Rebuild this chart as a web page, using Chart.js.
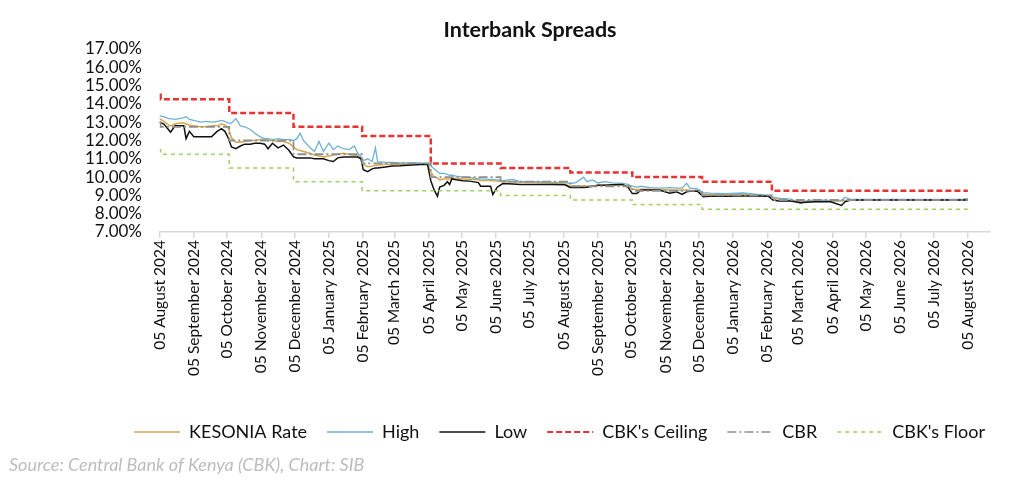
<!DOCTYPE html>
<html lang="en">
<head>
    <meta charset="UTF-8">
    <title>Interbank Spreads</title>
    <script src="https://cdn.jsdelivr.net/npm/chart.js"></script>
    <style>
        html, body { margin: 0; padding: 0; background: #fff; }
        #wrap { width: 1024px; height: 498px; position: relative; }
    </style>
</head>
<body>
    <div id="wrap"><canvas id="spreadChart"></canvas></div>

    <script>
        const chartTitle = 'Interbank Spreads';
        const sourceNote = 'Source: Central Bank of Kenya (CBK), Chart: SIB';

        const tickLabels = [
            '05 August 2024', '05 September 2024', '05 October 2024', '05 November 2024',
            '05 December 2024', '05 January 2025', '05 February 2025', '05 March 2025',
            '05 April 2025', '05 May 2025', '05 June 2025', '05 July 2025',
            '05 August 2025', '05 September 2025', '05 October 2025', '05 November 2025',
            '05 December 2025', '05 January 2026', '05 February 2026', '05 March 2026',
            '05 April 2026', '05 May 2026', '05 June 2026', '05 July 2026', '05 August 2026'
        ];

        // policy corridor (changes at MPC dates)
        const policyDates = ['2024-08-05', '2024-08-06', '2024-10-07', '2024-12-04', '2025-02-04', '2025-04-07',
            '2025-06-09', '2025-08-11', '2025-10-06', '2025-12-08', '2026-02-09', '2026-08-05'];
        const ceiling = [14.5, 14.25, 13.5, 12.75, 12.25, 10.75, 10.5, 10.25, 10.0, 9.75, 9.25, 9.25];
        const cbr = [13.0, 12.75, 12.0, 11.25, 10.75, 10.0, 9.75, 9.5, 9.25, 9.0, 8.75, 8.75];
        const floor = [11.5, 11.25, 10.5, 9.75, 9.25, 9.25, 9.0, 8.75, 8.5, 8.25, 8.25, 8.25];

        // market rates
        const rateDates = [
            '2024-08-05', '2024-08-09', '2024-08-13', '2024-08-15', '2024-08-19', '2024-08-23', '2024-08-27', '2024-08-29',
            '2024-09-01', '2024-09-05', '2024-09-11', '2024-09-16', '2024-09-21', '2024-09-26', '2024-09-30', '2024-10-03', '2024-10-06',
            '2024-10-09', '2024-10-13', '2024-10-17', '2024-10-21', '2024-10-26', '2024-10-30', '2024-11-04', '2024-11-08',
            '2024-11-11', '2024-11-15', '2024-11-20', '2024-11-25', '2024-11-30', '2024-12-04',
            '2024-12-07', '2024-12-10', '2024-12-13', '2024-12-19', '2024-12-23', '2024-12-27', '2024-12-31', '2025-01-05',
            '2025-01-09', '2025-01-13', '2025-01-18', '2025-01-23', '2025-01-28', '2025-01-31', '2025-02-03',
            '2025-02-05', '2025-02-09', '2025-02-13', '2025-02-16', '2025-02-18', '2025-02-25', '2025-03-03', '2025-03-10',
            '2025-03-17', '2025-03-25', '2025-04-04',
            '2025-04-07', '2025-04-10', '2025-04-13', '2025-04-15', '2025-04-19', '2025-04-22', '2025-04-24', '2025-04-26',
            '2025-04-30', '2025-05-06', '2025-05-12', '2025-05-20', '2025-05-22', '2025-05-31', '2025-06-02', '2025-06-06', '2025-06-11',
            '2025-06-20', '2025-06-27', '2025-07-10', '2025-07-24', '2025-08-06',
            '2025-08-11', '2025-08-16', '2025-08-23', '2025-08-26', '2025-08-31', '2025-09-05', '2025-09-11', '2025-09-18',
            '2025-09-27', '2025-10-02',
            '2025-10-06', '2025-10-10', '2025-10-14', '2025-10-22', '2025-10-31', '2025-11-09', '2025-11-15', '2025-11-20',
            '2025-11-24', '2025-11-27', '2025-12-04',
            '2025-12-09', '2025-12-15', '2025-12-29', '2026-01-14', '2026-01-27', '2026-02-06',
            '2026-02-10', '2026-02-15', '2026-02-26', '2026-03-07', '2026-03-12', '2026-03-20', '2026-04-03', '2026-04-13',
            '2026-04-16', '2026-04-21', '2026-05-09', '2026-06-05', '2026-07-02', '2026-07-31', '2026-08-05'
        ];
        const high = [
            13.35, 13.3, 13.2, 13.2, 13.15, 13.2, 13.25, 13.3,
            13.15, 13.1, 13.0, 13.05, 13.0, 13.05, 13.1, 13.05, 12.95,
            12.95, 13.2, 12.8, 12.75, 12.6, 12.4, 12.2, 12.1,
            12.1, 12.05, 12.1, 12.05, 12.05, 12.0,
            12.1, 12.4, 12.0, 11.6, 11.4, 11.95, 11.4, 11.85,
            11.5, 11.7, 11.55, 11.5, 11.7, 11.3, 11.1,
            10.9, 11.0, 10.85, 11.6, 10.85, 10.8, 10.8, 10.78,
            10.78, 10.77, 10.75,
            10.6, 10.45, 10.3, 10.2, 10.2, 10.15, 10.1, 10.1,
            10.05, 10.0, 9.97, 9.92, 9.9, 9.88, 9.88, 9.85, 9.8,
            9.88, 9.75, 9.75, 9.72, 9.7,
            9.65, 9.7, 10.0, 9.75, 9.85, 9.68, 9.75, 9.68,
            9.66, 9.6,
            9.5, 9.45, 9.5, 9.42, 9.4, 9.42, 9.4, 9.4,
            9.66, 9.4, 9.35,
            9.15, 9.12, 9.1, 9.13, 9.05, 9.0,
            8.9, 8.85, 8.8, 8.55, 8.7, 8.75, 8.72, 8.72,
            8.9, 8.78, 8.78, 8.78, 8.78, 8.78, 8.83
        ];
        const kesonia = [
            13.2, 13.05, 12.85, 12.8, 12.9, 12.95, 12.95, 12.9,
            12.85, 12.8, 12.75, 12.75, 12.8, 12.8, 12.9, 12.85, 12.7,
            12.15, 11.9, 11.9, 11.95, 12.0, 12.0, 12.05, 12.05,
            12.0, 12.0, 11.95, 11.95, 11.85, 11.65,
            11.5, 11.45, 11.4, 11.3, 11.2, 11.15, 11.1, 11.15,
            11.2, 11.25, 11.3, 11.25, 11.2, 11.15, 11.0,
            10.7, 10.57, 10.6, 10.65, 10.65, 10.7, 10.7, 10.72,
            10.7, 10.72, 10.72,
            10.3, 10.0, 9.95, 9.85, 9.9, 9.9, 9.9, 9.92,
            9.92, 9.9, 9.88, 9.85, 9.82, 9.82, 9.8, 9.78, 9.75,
            9.75, 9.72, 9.7, 9.68, 9.62,
            9.5, 9.5, 9.52, 9.5, 9.52, 9.55, 9.55, 9.57,
            9.57, 9.5,
            9.35, 9.32, 9.33, 9.33, 9.32, 9.3, 9.3, 9.3,
            9.3, 9.28, 9.25,
            9.08, 9.05, 9.05, 9.03, 9.0, 8.95,
            8.85, 8.8, 8.7, 8.65, 8.65, 8.67, 8.7, 8.7,
            8.72, 8.74, 8.75, 8.75, 8.75, 8.75, 8.75
        ];
        const low = [
            13.0, 12.9, 12.6, 12.45, 12.8, 12.8, 12.8, 12.1,
            12.5, 12.2, 12.2, 12.2, 12.2, 12.5, 12.65, 12.5, 12.15,
            11.65, 11.55, 11.7, 11.8, 11.8, 11.85, 11.85, 11.8,
            11.55, 11.85, 11.6, 11.75, 11.45, 11.1,
            11.05, 11.05, 11.05, 11.05, 11.0, 11.0, 11.0, 10.9,
            10.85, 11.05, 11.1, 11.1, 11.1, 11.1, 11.0,
            10.4, 10.3, 10.45, 10.5, 10.5, 10.55, 10.6, 10.62,
            10.65, 10.68, 10.7,
            9.8, 9.3, 8.95, 9.45, 9.55, 9.75, 9.6, 9.9,
            9.85, 9.8, 9.78, 9.7, 9.5, 9.5, 9.05, 9.45, 9.65,
            9.62, 9.6, 9.6, 9.6, 9.58,
            9.43, 9.43, 9.43, 9.45, 9.5, 9.55, 9.55, 9.58,
            9.6, 9.45,
            9.1, 9.1, 9.3, 9.3, 9.28, 9.12, 9.2, 9.05,
            9.2, 9.22, 9.22,
            8.93, 8.95, 8.95, 8.97, 8.97, 8.95,
            8.75, 8.7, 8.7, 8.6, 8.62, 8.65, 8.65, 8.45,
            8.65, 8.75, 8.75, 8.75, 8.75, 8.75, 8.75
        ];

        const monthNames = ['January', 'February', 'March', 'April', 'May', 'June', 'July',
            'August', 'September', 'October', 'November', 'December'];
        const startUtc = Date.UTC(2024, 7, 5);

        // days since 05 August 2024
        function isoToDay(s) {
            const [y, m, d] = s.split('-').map(Number);
            return Math.round((Date.UTC(y, m - 1, d) - startUtc) / 86400000);
        }
        function labelToDay(s) {
            const [d, mon, y] = s.split(' ');
            return Math.round((Date.UTC(+y, monthNames.indexOf(mon), +d) - startUtc) / 86400000);
        }
        function toPoints(dates, values) {
            return dates.map((d, i) => ({ x: isoToDay(d), y: values[i] }));
        }

        const tickDays = tickLabels.map(labelToDay);

        const textPlugin = {
            id: 'chartText',
            afterLayout(chart) {
                // legend sits a little right of the plot's right edge
                chart.legend.left += 15;
                chart.legend.right += 15;
            },
            afterDraw(chart) {
                const ctx = chart.ctx;
                ctx.save();
                ctx.fillStyle = '#111';
                ctx.font = 'bold 21.5px Lato';
                ctx.textAlign = 'center';
                ctx.textBaseline = 'middle';
                ctx.fillText(chartTitle, 530, 30);
                ctx.font = 'italic 18px Lato';
                ctx.fillStyle = '#bdbdbd';
                ctx.textAlign = 'left';
                ctx.fillText(sourceNote, 9, 465);
                ctx.restore();
            }
        };

        // keep the dash pattern of each line in its legend sample
        function legendLabels(chart) {
            const items = Chart.defaults.plugins.legend.labels.generateLabels(chart);
            items.forEach(it => {
                const ds = chart.data.datasets[it.datasetIndex];
                it.lineDash = ds.borderDash || [];
                it.lineWidth = ds.legendWidth || ds.borderWidth;
                it.strokeStyle = ds.borderColor;
            });
            return items;
        }

        const lineBase = { pointRadius: 0, pointHoverRadius: 0, tension: 0, fill: false };

        new Chart(document.getElementById('spreadChart'), {
            type: 'line',
            data: {
                datasets: [
                    { ...lineBase, label: 'KESONIA Rate', data: toPoints(rateDates, kesonia),
                        borderColor: '#d8a74c', backgroundColor: '#d8a74c', borderWidth: 1.5, legendWidth: 1.3, order: 6 },
                    { ...lineBase, label: 'High', data: toPoints(rateDates, high),
                        borderColor: '#6db2d5', backgroundColor: '#6db2d5', borderWidth: 1.3, order: 5 },
                    { ...lineBase, label: 'Low', data: toPoints(rateDates, low),
                        borderColor: '#111111', backgroundColor: '#111111', borderWidth: 1.5, legendWidth: 1.3, order: 4 },
                    { ...lineBase, label: "CBK's Ceiling", data: toPoints(policyDates, ceiling), stepped: true,
                        borderColor: '#e53532', backgroundColor: '#e53532', borderWidth: 2.5, legendWidth: 2, borderDash: [6, 3], order: 3 },
                    { ...lineBase, label: 'CBR', data: toPoints(policyDates, cbr), stepped: true,
                        borderColor: '#8f8f8f', backgroundColor: '#8f8f8f', borderWidth: 1.8, legendWidth: 1.3, borderDash: [9, 3, 2, 3], order: 2 },
                    { ...lineBase, label: "CBK's Floor", data: toPoints(policyDates, floor), stepped: true,
                        borderColor: '#9fd062', backgroundColor: '#9fd062', borderWidth: 1.5, borderDash: [4, 4], order: 1 }
                ]
            },
            options: {
                responsive: true,
                maintainAspectRatio: false,
                animation: false,
                layout: { padding: { top: 49, left: 10, right: 34, bottom: 47 } },
                plugins: {
                    title: { display: false },
                    tooltip: { enabled: false },
                    legend: {
                        position: 'bottom',
                        align: 'end',
                        labels: {
                            usePointStyle: true,
                            pointStyle: 'line',
                            pointStyleWidth: 46,
                            boxHeight: 18,
                            padding: 20,
                            color: '#111',
                            font: { family: 'Lato', size: 18 },
                            generateLabels: legendLabels,
                            sort: (a, b) => a.datasetIndex - b.datasetIndex
                        }
                    }
                },
                scales: {
                    x: {
                        type: 'linear',
                        min: 0,
                        max: 750,
                        afterBuildTicks: (scale) => { scale.ticks = tickDays.map(v => ({ value: v })); },
                        afterFit: (scale) => { scale.height = 171; },
                        border: { display: true, color: '#d9d9d9', width: 1.5 },
                        grid: { display: true, drawOnChartArea: false, drawTicks: true, tickLength: 6, color: '#d9d9d9', lineWidth: 1.5 },
                        ticks: {
                            autoSkip: false,
                            minRotation: 90,
                            maxRotation: 90,
                            padding: 2,
                            color: '#111',
                            font: { family: 'Lato', size: 15.5 },
                            callback: (v, i) => tickLabels[i]
                        }
                    },
                    y: {
                        min: 7,
                        max: 17,
                        afterFit: (scale) => { scale.width = 149.5; },
                        border: { display: false },
                        grid: { display: false, drawTicks: false },
                        ticks: {
                            stepSize: 1,
                            autoSkip: false,
                            padding: 17.5,
                            color: '#111',
                            font: { family: 'Lato', size: 17 },
                            callback: (v) => v.toFixed(2) + '%'
                        }
                    }
                }
            },
            plugins: [textPlugin]
        });
    </script>
</body>
</html>
